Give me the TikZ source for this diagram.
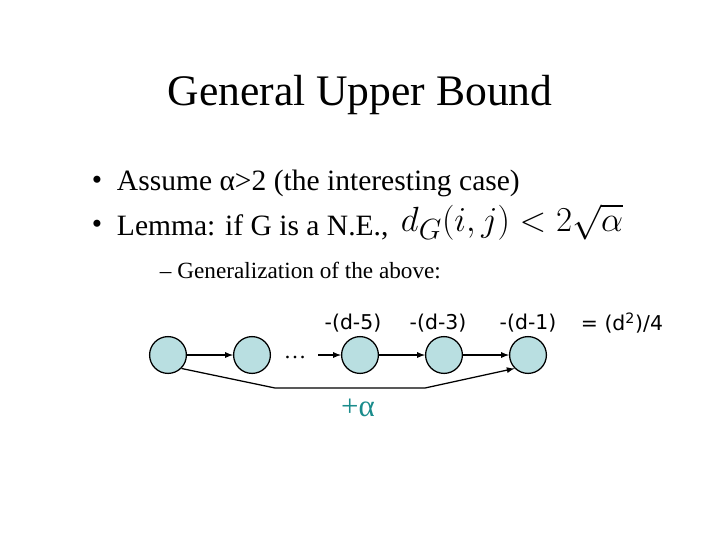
\documentclass[tikz,border=0pt]{standalone}
\usepackage{fontspec}
\setmainfont{Liberation Serif}
\newfontfamily\labfont{DejaVu Sans}
\usetikzlibrary{arrows}

\definecolor{nodefill}{HTML}{B9DFE1}
\definecolor{alphateal}{HTML}{1A8C8C}

\tikzset{
  vtx/.style={circle,draw,fill=nodefill,minimum size=0.92cm,inner sep=0pt,line width=0.9pt},
  edge/.style={-latex,line width=0.9pt},
  wlab/.style={font=\labfont\fontsize{14.5}{16}\selectfont}
}

\begin{document}
\begin{tikzpicture}[x=0.025cm,y=-0.025cm]
  \useasboundingbox (0,0) rectangle (720,540);
  \node (title) at (360,95) {\fontsize{31}{36}\selectfont General Upper Bound};
  \node (b1) at (97,183) {\fontsize{21}{24}\selectfont \textbullet};
  \node[anchor=west] (t1) at (112,183) {\fontsize{21}{24}\selectfont Assume α>2 (the interesting case)};
  \node (b2) at (97,227) {\fontsize{21}{24}\selectfont \textbullet};
  \node[anchor=west] (t2) at (112,227) {\fontsize{21}{24}\selectfont Lemma: if G is a N.E.,};
  \node[anchor=west] (lemma) at (396,222) {\fontsize{31.5}{36}\selectfont $d_G(i,j) < 2\sqrt{\alpha}$};
  \node[anchor=west] (t3) at (155,270) {\fontsize{16.5}{20}\selectfont -- Generalization of the above:};

  % the path of vertices
  \node[vtx] (a1) at (168,355) {};
  \node[vtx] (a2) at (252,355) {};
  \node (dots) at (295,357) {\fontsize{16}{18}\selectfont \dots};
  \coordinate (gap) at (318,355);
  \node[vtx] (a3) at (360,355) {};
  \node[vtx] (a4) at (444,355) {};
  \node[vtx] (a5) at (528,355) {};
  \draw[edge] (a1) -- (a2);
  \draw[edge] (gap) -- (a3);
  \draw[edge] (a3) -- (a4);
  \draw[edge] (a4) -- (a5);
  \draw[edge] (a1.south east) -- (275,388) -- (425,388) -- (a5.south west);

  % weights
  \node[wlab] (w3) at (353,323) {-(d-5)};
  \node[wlab] (w4) at (438,323) {-(d-3)};
  \node[wlab] (w5) at (528,323) {-(d-1)};
  \node[wlab] (sum) at (622,323) {= (d\textsuperscript{2})/4};
  \node[text=alphateal] (plus) at (358,408) {\fontsize{22}{24}\selectfont +α};
\end{tikzpicture}
\end{document}
